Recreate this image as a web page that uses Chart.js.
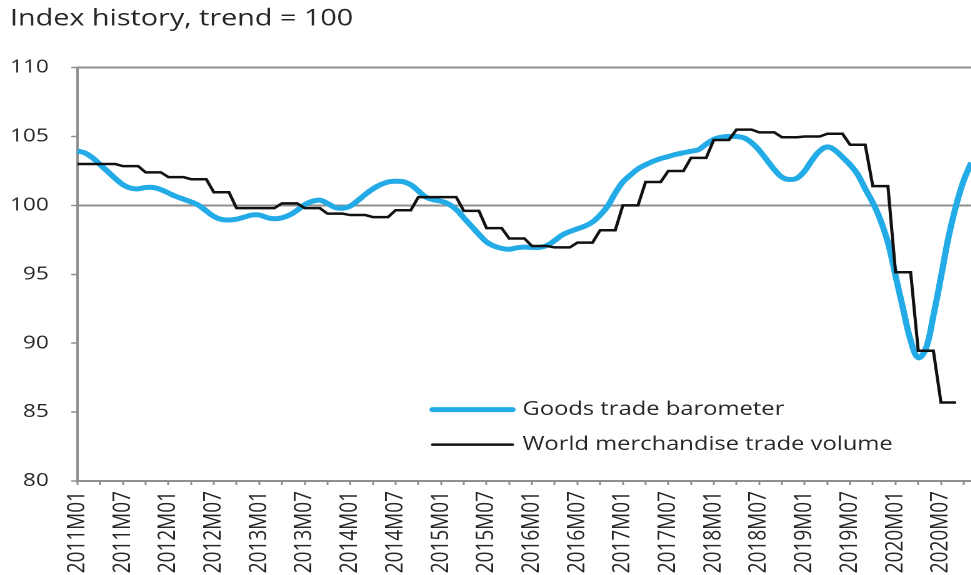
<!DOCTYPE html>
<html>
<head>
<meta charset="utf-8">
<script src="https://cdn.jsdelivr.net/npm/chart.js@4.4.1/dist/chart.umd.min.js"></script>
<style>
  html, body { margin: 0; padding: 0; background: #fff; overflow: hidden; }
  /* the source picture is stretched sideways, so draw it narrow and widen it */
  #wrap { width: 777px; height: 575px; transform: scaleX(1.25); transform-origin: 0 0; }
</style>
</head>
<body>
<div id="wrap"><canvas id="tradeChart" width="777" height="575"></canvas></div>
<script>
// monthly categories 2011M01 .. 2020M11
const months = [];
for (let y = 2011; y <= 2020; y++) {
  for (let m = 1; m <= 12; m++) {
    if (y === 2020 && m > 11) break;
    months.push(y + 'M' + String(m).padStart(2, '0'));
  }
}

const barometer = [
  103.95, 103.8, 103.45, 102.95, 102.45, 101.95, 101.5, 101.25, 101.2, 101.3, 101.3, 101.15,
  100.9, 100.65, 100.45, 100.25, 100.0, 99.6, 99.2, 98.98, 98.94, 99.0, 99.15, 99.3,
  99.3, 99.12, 99.03, 99.1, 99.3, 99.65, 100.05, 100.3, 100.38, 100.15, 99.85, 99.8,
  99.95, 100.35, 100.8, 101.2, 101.5, 101.7, 101.75, 101.72, 101.5, 101.05, 100.6, 100.4,
  100.3, 100.1, 99.7, 99.1, 98.5, 97.9, 97.35, 97.05, 96.88, 96.82, 96.92, 96.97,
  96.95, 96.95, 97.1, 97.45, 97.85, 98.1, 98.3, 98.5, 98.8, 99.3, 99.95, 100.9,
  101.7, 102.2, 102.65, 102.95, 103.2, 103.4, 103.55, 103.7, 103.82, 103.93, 104.05, 104.45,
  104.8, 104.95, 105.0, 105.0, 104.9, 104.55, 104.0, 103.3, 102.6, 102.05, 101.88, 101.98,
  102.5, 103.3, 103.95, 104.25, 104.0, 103.5, 102.95, 102.25, 101.2, 100.2, 98.95, 97.3,
  94.9, 92.5, 90.2, 88.95, 89.6, 92.0, 94.8, 97.7, 100.0, 101.8, 103.1
];

// quarterly volume, repeated for each month of the quarter
const tradeVolume = [
  103.0, 103.0, 103.0, 103.0, 103.0, 103.0, 102.85, 102.85, 102.85, 102.4, 102.4, 102.4,
  102.05, 102.05, 102.05, 101.9, 101.9, 101.9, 100.95, 100.95, 100.95, 99.8, 99.8, 99.8,
  99.8, 99.8, 99.8, 100.15, 100.15, 100.15, 99.8, 99.8, 99.8, 99.4, 99.4, 99.4,
  99.3, 99.3, 99.3, 99.15, 99.15, 99.15, 99.65, 99.65, 99.65, 100.6, 100.6, 100.6,
  100.6, 100.6, 100.6, 99.6, 99.6, 99.6, 98.35, 98.35, 98.35, 97.6, 97.6, 97.6,
  97.05, 97.05, 97.05, 96.95, 96.95, 96.95, 97.3, 97.3, 97.3, 98.2, 98.2, 98.2,
  100.0, 100.0, 100.0, 101.7, 101.7, 101.7, 102.5, 102.5, 102.5, 103.45, 103.45, 103.45,
  104.75, 104.75, 104.75, 105.5, 105.5, 105.5, 105.3, 105.3, 105.3, 104.95, 104.95, 104.95,
  105.0, 105.0, 105.0, 105.2, 105.2, 105.2, 104.4, 104.4, 104.4, 101.4, 101.4, 101.4,
  95.15, 95.15, 95.15, 89.45, 89.45, 89.45, 85.7, 85.7, 85.7
];

const yTicks = [80, 85, 90, 95, 100, 105, 110];
const refLines = [100, 110];

const axisGray = '#8f8f8f';
const textColor = '#262626';

Chart.defaults.font.family = '"Open Sans", sans-serif';
Chart.defaults.color = textColor;

// legend drawn inside the plot, like the original
const insideLegend = {
  id: 'insideLegend',
  afterDraw(chart) {
    const { ctx, chartArea } = chart;
    const x0 = chartArea.left + 284;
    let y = chartArea.top + 342;
    ctx.save();
    ctx.font = '19px "Open Sans", sans-serif';
    ctx.textBaseline = 'middle';
    ctx.fillStyle = textColor;
    chart.data.datasets.forEach(ds => {
      ctx.strokeStyle = ds.borderColor;
      ctx.lineWidth = ds.borderWidth;
      ctx.lineCap = 'round';
      ctx.beginPath();
      ctx.moveTo(x0, y);
      ctx.lineTo(x0 + 64, y);
      ctx.stroke();
      ctx.fillText(ds.label, x0 + 72, y);
      y += 35;
    });
    ctx.restore();
  }
};

const ctx = document.getElementById('tradeChart').getContext('2d');
const tradeChart = new Chart(ctx, {
  type: 'line',
  data: {
    labels: months,
    datasets: [{
      label: 'Goods trade barometer',
      data: barometer,
      borderColor: '#22abe6',
      borderWidth: 5,
      tension: 0.4,
      pointRadius: 0,
      order: 2
    }, {
      label: 'World merchandise trade volume',
      data: tradeVolume,
      borderColor: '#111111',
      borderWidth: 2.5,
      tension: 0,
      pointRadius: 0,
      order: 1
    }]
  },
  options: {
    responsive: false,
    animation: false,
    devicePixelRatio: 2,
    layout: { padding: { left: 8, right: 0, top: 0, bottom: 0 } },
    plugins: {
      legend: { display: false },
      tooltip: { enabled: false },
      title: {
        display: true,
        text: 'Index history, trend = 100',
        align: 'start',
        color: textColor,
        font: { size: 23, weight: 'normal' },
        padding: { top: 5, bottom: 35 }
      }
    },
    scales: {
      x: {
        afterFit: scale => {
          scale.height = 94;
          scale.paddingLeft = 0;
          scale.paddingRight = 0;
        },
        grid: {
          drawOnChartArea: false,
          tickLength: 4,
          tickWidth: 1.5,
          tickColor: c => (c.index % 3 === 0 ? axisGray : 'transparent')
        },
        border: { color: axisGray, width: 2 },
        ticks: {
          autoSkip: false,
          minRotation: 90,
          maxRotation: 90,
          padding: 6,
          font: { size: 19 },
          callback: function (value, index) {
            return index % 6 === 0 ? this.getLabelForValue(value) : '';
          }
        }
      },
      y: {
        min: 80,
        max: 110,
        afterBuildTicks: scale => { scale.ticks = yTicks.map(v => ({ value: v })); },
        afterFit: scale => { scale.width = 54; },
        grid: {
          color: c => (refLines.includes(c.tick.value) ? axisGray : 'transparent'),
          lineWidth: 2,
          tickLength: 5,
          tickWidth: 1.5,
          tickColor: axisGray
        },
        border: { color: axisGray, width: 2 },
        ticks: { padding: 18, font: { size: 18 } }
      }
    }
  },
  plugins: [insideLegend]
});
</script>
</body>
</html>
